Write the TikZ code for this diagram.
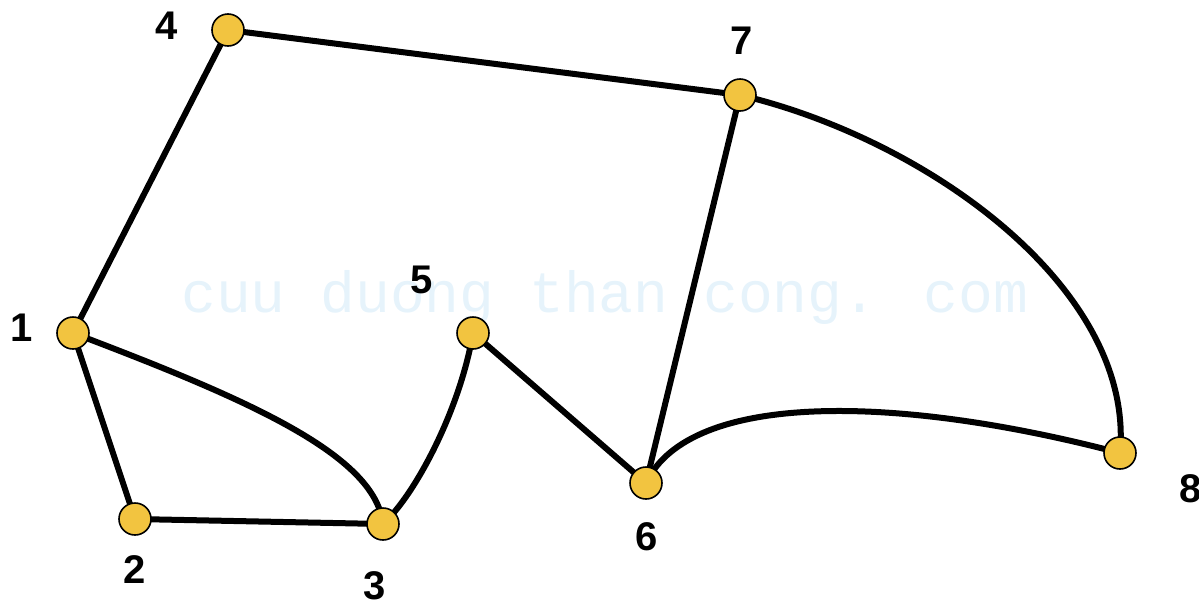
\documentclass[tikz,border=0pt]{standalone}
\usepackage{fontspec}
\setmainfont{Liberation Sans}
\newfontfamily\wmfont{Liberation Mono}
\definecolor{nodeyellow}{RGB}{242,196,64}
\definecolor{wmblue}{RGB}{230,243,251}
\begin{document}
\begin{tikzpicture}[x=1pt,y=-1pt,
  vtx/.style={circle,draw=black,line width=1.6pt,fill=nodeyellow,minimum size=32pt,inner sep=0pt},
  lbl/.style={font=\fontsize{40}{40}\selectfont\bfseries,inner sep=0pt},
  edge/.style={line width=6pt,black}]
\useasboundingbox (0,0) rectangle (1199,603);
\node[anchor=base west,inner sep=0pt,text=wmblue,font=\wmfont\fontsize{58}{58}\selectfont] (wm) at (181,312) {cuu duong than cong. com};
% vertices coordinates
\coordinate (c1) at (73,333);
\coordinate (c2) at (135,519);
\coordinate (c3) at (383,524);
\coordinate (c4) at (228,30);
\coordinate (c5) at (473,333);
\coordinate (c6) at (646,483);
\coordinate (c7) at (740,95);
\coordinate (c8) at (1120,453);
% edges
\draw[edge] (c1) -- (c4);
\draw[edge] (c4) -- (c7);
\draw[edge] (c1) -- (c2);
\draw[edge] (c2) -- (c3);
\draw[edge] (c1) .. controls (250,400) and (375,455) .. (c3);
\draw[edge] (c3) .. controls (415,495) and (460,410) .. (c5);
\draw[edge] (c5) -- (c6);
\draw[edge] (c6) -- (c7);
\draw[edge] (c7) .. controls (930,140) and (1135,290) .. (c8);
\draw[edge] (c6) .. controls (690,390) and (900,395) .. (c8);
% vertices
\node[vtx] (n1) at (c1) {};
\node[vtx] (n2) at (c2) {};
\node[vtx] (n3) at (c3) {};
\node[vtx] (n4) at (c4) {};
\node[vtx] (n5) at (c5) {};
\node[vtx] (n6) at (c6) {};
\node[vtx] (n7) at (c7) {};
\node[vtx] (n8) at (c8) {};
% labels
\node[lbl] (l1) at (22,328) {1};
\node[lbl] (l2) at (135,570) {2};
\node[lbl] (l3) at (375,586) {3};
\node[lbl] (l4) at (167,26) {4};
\node[lbl] (l5) at (422,280) {5};
\node[lbl] (l6) at (647,537) {6};
\node[lbl] (l7) at (742,41) {7};
\node[lbl] (l8) at (1191,489) {8};
\end{tikzpicture}
\end{document}
